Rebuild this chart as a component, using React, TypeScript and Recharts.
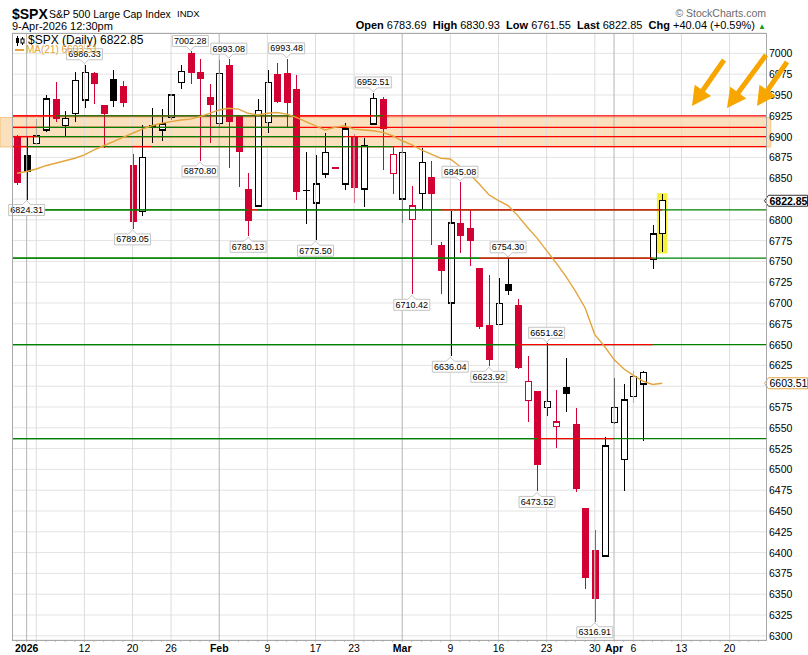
import React from "react";
import {
  ComposedChart,
  Bar,
  Line,
  XAxis,
  YAxis,
  CartesianGrid,
  ReferenceLine,
  ReferenceArea,
  ReferenceDot,
} from "recharts";

// trading days on the chart, Dec 31 2025 -> Apr 9 2026
const dates = [
  "Dec 31", "Jan 2", "Jan 5", "Jan 6", "Jan 7", "Jan 8", "Jan 9", "Jan 12", "Jan 13", "Jan 14",
  "Jan 15", "Jan 16", "Jan 20", "Jan 21", "Jan 22", "Jan 23", "Jan 26", "Jan 27", "Jan 28", "Jan 29",
  "Jan 30", "Feb 2", "Feb 3", "Feb 4", "Feb 5", "Feb 6", "Feb 9", "Feb 10", "Feb 11", "Feb 12",
  "Feb 13", "Feb 17", "Feb 18", "Feb 19", "Feb 20", "Feb 23", "Feb 24", "Feb 25", "Feb 26", "Feb 27",
  "Mar 2", "Mar 3", "Mar 4", "Mar 5", "Mar 6", "Mar 9", "Mar 10", "Mar 11", "Mar 12", "Mar 13",
  "Mar 16", "Mar 17", "Mar 18", "Mar 19", "Mar 20", "Mar 23", "Mar 24", "Mar 25", "Mar 26", "Mar 27",
  "Mar 30", "Mar 31", "Apr 1", "Apr 2", "Apr 6", "Apr 7", "Apr 8", "Apr 9",
];

const opens = [
  6900, 6878, 6892, 6908, 6945, 6913, 6928, 6944, 6977, 6938,
  6969, 6960.6, 6866, 6810, 6912, 6908, 6923, 6965, 7001, 6978,
  6948, 6916, 6986, 6925, 6837, 6816.5, 6917, 6975, 6977, 6957,
  6836, 6820, 6855, 6863, 6843, 6901, 6837, 6915, 6945, 6856,
  6825, 6800, 6832, 6851, 6770, 6700, 6796.5, 6790.5, 6742, 6673.6,
  6674.4, 6723, 6697.5, 6582.6, 6594, 6574.6, 6551.3, 6598.6, 6555, 6453,
  6403, 6396, 6556.6, 6512, 6588, 6602.6, 6752, 6783.69,
];

const highs = [
  6902, 6899, 6921, 6950, 6966, 6931, 6978, 6986.33, 6978, 6938.5,
  6980, 6966.8, 6879, 6914, 6934, 6933, 6951, 6986, 7002.28, 6993,
  6962.7, 6992, 6993.08, 6925.5, 6856.6, 6944.8, 6980, 6988, 6993.48, 6974,
  6881.8, 6877.9, 6904, 6863.5, 6916, 6903, 6898.7, 6952.51, 6947, 6889,
  6900.7, 6840.6, 6886, 6871, 6773.7, 6811, 6845.08, 6811.8, 6742.5, 6733.7,
  6730.4, 6754.3, 6704.5, 6636.3, 6594.5, 6651.62, 6595.4, 6633.5, 6573.4, 6453.5,
  6427.2, 6538.6, 6609.5, 6602.6, 6618.6, 6618.3, 6793.5, 6830.93,
];

const lows = [
  6842, 6824.31, 6890, 6906, 6918, 6900, 6918, 6934, 6939, 6886,
  6935.6, 6935.6, 6789.05, 6804, 6892, 6895, 6920, 6957.6, 6962.7, 6870.8,
  6892, 6912, 6862, 6840, 6780.13, 6816, 6904.7, 6940, 6911, 6823.8,
  6794.6, 6775.5, 6849.8, 6861, 6835.8, 6819.8, 6815, 6914, 6860, 6831,
  6796.5, 6710.42, 6811.8, 6769.8, 6710.8, 6636.04, 6759.7, 6744.5, 6668.8, 6623.92,
  6674, 6709.6, 6620.3, 6557.3, 6473.52, 6564.2, 6525.3, 6568.6, 6473.2, 6355.9,
  6316.91, 6395.5, 6554.2, 6474, 6579.4, 6534.5, 6740.5, 6761.55,
];

const closes = [
  6844, 6858, 6901.5, 6945, 6921, 6922, 6967, 6977, 6963, 6927,
  6943, 6940, 6797, 6875, 6913, 6915, 6950, 6978, 6977, 6969,
  6938, 6976, 6917, 6882, 6798, 6931, 6965, 6941, 6940, 6833,
  6834, 6843, 6881, 6861.5, 6909, 6838, 6889.5, 6946, 6909, 6878.6,
  6881, 6816.6, 6869, 6830.6, 6739, 6796, 6780.5, 6774.5, 6671, 6631.5,
  6699.6, 6715, 6622, 6605.4, 6505, 6581.4, 6557, 6590.6, 6477, 6369,
  6344, 6528, 6574.6, 6583.4, 6611.4, 6616.2, 6782.81, 6822.85,
];

const ma21 = [
  6856, 6858, 6861, 6865, 6868, 6871, 6874, 6878, 6884, 6889,
  6894, 6899, 6904, 6909, 6913, 6916, 6918, 6920, 6921, 6924,
  6928, 6932, 6934, 6933, 6928, 6926, 6928, 6929, 6927, 6923,
  6918, 6913, 6908, 6911, 6913, 6909, 6908, 6907, 6905, 6901,
  6895, 6890, 6884, 6879, 6874, 6873, 6864, 6855, 6843, 6830,
  6823, 6817, 6805, 6791, 6778, 6763, 6748, 6732, 6714, 6694,
  6662, 6648, 6632, 6621, 6613, 6606, 6602, 6603.51,
];

const closeBeforeStart = 6896; // Dec 30, colours the first bar

// empty days the time axis still runs through
const futureDates = ["Apr 10", "Apr 13", "Apr 14", "Apr 15", "Apr 16", "Apr 17", "Apr 20", "Apr 21", "Apr 22", "Apr 23"];

const yTicks = [
  6300, 6325, 6350, 6375, 6400, 6425, 6450, 6475, 6500, 6525, 6550, 6575, 6600, 6625, 6650,
  6675, 6700, 6725, 6750, 6775, 6800, 6825, 6850, 6875, 6900, 6925, 6950, 6975, 7000,
];
const hiddenYLabels = [6600, 6825]; // sit under the price tags

const axisLabelDates = ["Jan 2", "Jan 12", "Jan 20", "Jan 26", "Feb 2", "Feb 9", "Feb 17", "Feb 23", "Mar 2", "Mar 9", "Mar 16", "Mar 23", "Mar 30", "Apr 1", "Apr 6", "Apr 13", "Apr 20"];
const axisLabelText = ["2026", "12", "20", "26", "Feb", "9", "17", "23", "Mar", "9", "16", "23", "30", "Apr", "6", "13", "20"];
const boldAxisLabels = ["2026", "Feb", "Mar", "Apr"];
const weekLineDates = ["Jan 5", "Jan 12", "Jan 20", "Jan 26", "Feb 9", "Feb 17", "Feb 23", "Mar 9", "Mar 16", "Mar 23", "Mar 30", "Apr 6", "Apr 13", "Apr 20"];
const monthLineDates = ["Jan 2", "Feb 2", "Mar 2", "Apr 1"];

const highLabelDates = ["Jan 12", "Jan 28", "Feb 3", "Feb 11", "Feb 25", "Mar 10", "Mar 17", "Mar 23"];
const lowLabelDates = ["Jan 2", "Jan 20", "Jan 29", "Feb 5", "Feb 17", "Mar 3", "Mar 9", "Mar 13", "Mar 20", "Mar 30"];

// horizontal levels, each split into coloured runs starting at a given bar
const levelValues = [6925, 6911, 6900, 6888, 6812, 6754, 6650, 6537];
const levelRuns: [string, string][][] = [
  [["red", "start"], ["green", "Jan 7"], ["red", "Feb 12"], ["green", "Feb 25"], ["red", "Feb 26"]],
  [["red", "start"], ["green", "Jan 5"], ["red", "Feb 12"]],
  [["red", "start"], ["green", "Jan 5"], ["red", "Feb 20"]],
  [["red", "start"], ["green", "Jan 2"], ["red", "Jan 20"], ["green", "Jan 22"], ["red", "Feb 27"]],
  [["green", "start"], ["red", "Feb 5"], ["green", "Feb 6"], ["red", "Mar 6"], ["green", "Apr 9"]],
  [["green", "start"], ["red", "Mar 12"], ["green", "Apr 8"]],
  [["green", "start"], ["red", "Mar 18"], ["green", "Apr 8"]],
  [["green", "start"], ["red", "Mar 20"], ["green", "Apr 1"]],
];
const resistanceBand = [6887.5, 6923];

const RED = "#d20033";
const LINE_COLORS: Record<string, string> = { red: "#ff0000", green: "#008000" };
const MA_COLOR = "#e3a53c";
const FONT = "'Liberation Sans', Arial, sans-serif";

const X_MIN = -0.52;
const X_MAX = 77.78;
const Y_MIN = 6294.95;
const Y_MAX = 7024.5;

const allDates = [...dates, ...futureDates];
const posOf = (d: string) => allDates.indexOf(d);
const xTicks = allDates.map((_, k) => k);

const rows = dates.map((d, k) => ({
  pos: k,
  date: d,
  open: opens[k],
  high: highs[k],
  low: lows[k],
  close: closes[k],
  prev: k === 0 ? closeBeforeStart : closes[k - 1],
  range: [lows[k], highs[k]],
  ma: ma21[k],
}));

const lastRow = rows[rows.length - 1];

const Candle = (props: any) => {
  const { x, y, width, height, payload } = props;
  if (!payload || x == null) return null;
  const { open, close, high, low, prev } = payload;
  const top = Math.min(y, y + height);
  const h = Math.abs(height);
  const py = (v: number) => top + ((high - v) / (high - low)) * h;
  const cx = Math.round(x + width / 2) + 0.5;
  const color = close >= prev ? "#000" : RED;
  const bTop = py(Math.max(open, close));
  const bBot = py(Math.min(open, close));
  const hollow = close >= open;
  return (
    <g shapeRendering="crispEdges">
      <line x1={cx} x2={cx} y1={top} y2={bTop} stroke={color} strokeWidth={1} />
      <line x1={cx} x2={cx} y1={bBot} y2={top + h} stroke={color} strokeWidth={1} />
      {hollow ? (
        <rect x={cx - 3} y={bTop} width={6} height={Math.max(bBot - bTop, 1)} fill="#fff" stroke={color} strokeWidth={1.3} />
      ) : (
        <rect x={cx - 3.5} y={bTop} width={7} height={Math.max(bBot - bTop, 1.5)} fill={color} />
      )}
    </g>
  );
};

const Callout = ({ cx, cy, text, below }: any) => {
  if (cx == null) return null;
  const w = text.length * 5 + 1;
  const h = 11;
  const n = 4;
  const l = cx - w / 2;
  const r = cx + w / 2;
  let d: string;
  let ty: number;
  if (below) {
    const tip = cy + 1;
    const t = tip + n;
    d = `M${l},${t}H${cx - n}L${cx},${tip}L${cx + n},${t}H${r}V${t + h}H${l}Z`;
    ty = t + 8.5;
  } else {
    const tip = cy - 1;
    const b = tip - n;
    d = `M${l},${b - h}H${r}V${b}H${cx + n}L${cx},${tip}L${cx - n},${b}H${l}Z`;
    ty = b - h + 8.5;
  }
  return (
    <g>
      <path d={d} fill="#fff" stroke="#c4c4c4" strokeWidth={1} />
      <text x={cx} y={ty} textAnchor="middle" fontSize={9} fontFamily={FONT} fill="#000">
        {text}
      </text>
    </g>
  );
};

const PriceTag = ({ cx, cy, text, border, bold }: any) => {
  if (cx == null) return null;
  const tip = cx - 1.5;
  const l = cx + 2.5;
  const r = 807.5;
  const hh = 5.5;
  return (
    <g>
      <path d={`M${tip},${cy}L${l},${cy - hh}H${r}V${cy + hh}H${l}Z`} fill="#fff" stroke={border} strokeWidth={1} />
      <text x={l + 1} y={cy + 4} fontSize={10.5} fontWeight={bold ? 700 : 400} fontFamily={FONT} fill="#000">
        {text}
      </text>
    </g>
  );
};

const renderXTick = (p: any) => {
  const k = axisLabelDates.map(posOf).indexOf(p.payload.value);
  const txt = k >= 0 ? axisLabelText[k] : null;
  return (
    <g>
      <line x1={p.x} x2={p.x} y1={p.y} y2={p.y + 2} stroke="#bbb" />
      {txt && (
        <text
          x={p.x}
          y={p.y + 12}
          textAnchor="middle"
          fontSize={10.5}
          fontWeight={boldAxisLabels.includes(txt) ? 700 : 400}
          fontFamily={FONT}
          fill="#000"
        >
          {txt}
        </text>
      )}
    </g>
  );
};

const renderYTick = (p: any) => {
  if (hiddenYLabels.includes(p.payload.value)) return <g />;
  return (
    <text x={p.x + 3} y={p.y + 4} fontSize={10.5} fontFamily={FONT} fill="#000">
      {p.payload.value}
    </text>
  );
};

// every level: one full-width line in its latest colour, earlier runs laid over it
const levelBase = levelValues.map((lv, li) => {
  const runs = levelRuns[li];
  return { lv, color: runs[runs.length - 1][0], key: `base-${li}` };
});
const levelSegments = levelValues.flatMap((lv, li) =>
  levelRuns[li].slice(0, -1).map(([color, start], ri) => {
    const x1 = start === "start" ? X_MIN : posOf(start);
    const x2 = posOf(levelRuns[li][ri + 1][1]);
    return { lv, color, x1, x2, key: `lvl-${li}-${ri}` };
  })
);

const arrowPath = (tx: number, ty: number, hx: number, hy: number) => {
  const dx = hx - tx;
  const dy = hy - ty;
  const len = Math.hypot(dx, dy);
  const ux = dx / len;
  const uy = dy / len;
  const bx = hx - ux * 19;
  const by = hy - uy * 19;
  const nx = -uy * 10;
  const ny = ux * 10;
  return {
    line: { x1: tx, y1: ty, x2: bx + ux * 2, y2: by + uy * 2 },
    head: `M${hx},${hy}L${bx + nx},${by + ny}L${bx - nx},${by - ny}Z`,
  };
};

// hand-drawn arrows of the annotation layer (page pixels)
const arrows = [
  [724, 60, 692, 106],
  [766, 55, 727, 108],
  [787, 62, 757, 106],
].map(([a, b, c, d]) => arrowPath(a, b, c, d));

const abs = (left: number, top: number, extra: React.CSSProperties = {}): React.CSSProperties => ({
  position: "absolute",
  left,
  top,
  lineHeight: 1,
  whiteSpace: "nowrap",
  fontFamily: FONT,
  ...extra,
});

export default function App() {
  return (
    <div style={{ position: "absolute", left: 0, top: 0, width: 808, height: 655, background: "#fff", overflow: "hidden" }}>
      <ComposedChart width={808} height={655} data={rows} margin={{ top: 33, right: 0, bottom: 0, left: 12 }}>
        <CartesianGrid vertical={false} stroke="#e3e3e3" />
        <XAxis
          type="number"
          dataKey="pos"
          domain={[X_MIN, X_MAX]}
          allowDataOverflow
          ticks={xTicks}
          interval={0}
          tick={renderXTick}
          tickLine={false}
          tickSize={0}
          tickMargin={0}
          axisLine={false}
          height={15}
        />
        <YAxis
          orientation="right"
          type="number"
          domain={[Y_MIN, Y_MAX]}
          allowDataOverflow
          ticks={yTicks}
          interval={0}
          width={42}
          tick={renderYTick}
          tickLine={false}
          tickSize={0}
          tickMargin={0}
          axisLine={false}
        />
        {weekLineDates.map((d) => (
          <ReferenceLine key={"w" + d} x={posOf(d)} stroke="#dcdcdc" strokeWidth={1} />
        ))}
        {monthLineDates.map((d) => (
          <ReferenceLine key={"m" + d} x={posOf(d)} stroke="#b4b4b4" strokeWidth={1} />
        ))}
        <ReferenceArea
          x1={X_MIN - 1.25}
          x2={X_MAX + 0.5}
          y1={resistanceBand[0]}
          y2={resistanceBand[1]}
          fill="#f0a030"
          fillOpacity={0.32}
          stroke="#f0a030"
          strokeOpacity={0.5}
          ifOverflow="visible"
        />
        <ReferenceArea
          x1={lastRow.pos - 0.55}
          x2={lastRow.pos + 0.55}
          y1={lastRow.low - 2}
          y2={lastRow.high + 1}
          fill="#f6f03a"
          fillOpacity={1}
          stroke="none"
        />
        {levelBase.map((b) => (
          <ReferenceLine key={b.key} y={b.lv} stroke={LINE_COLORS[b.color]} strokeWidth={1.3} />
        ))}
        {levelSegments.map((s) => (
          <ReferenceLine
            key={s.key}
            segment={[
              { x: s.x1, y: s.lv },
              { x: s.x2, y: s.lv },
            ]}
            stroke={LINE_COLORS[s.color]}
            strokeWidth={1.3}
            ifOverflow="visible"
          />
        ))}
        <Line type="linear" dataKey="ma" stroke={MA_COLOR} strokeWidth={1.4} dot={false} activeDot={false} isAnimationActive={false} />
        <Bar dataKey="range" barSize={8} shape={Candle} isAnimationActive={false} />
        {highLabelDates.map((d) => {
          const r = rows[posOf(d)];
          return (
            <ReferenceDot
              key={"h" + d}
              x={r.pos}
              y={r.high}
              ifOverflow="visible"
              shape={(p: any) => <Callout {...p} text={r.high.toFixed(2)} />}
            />
          );
        })}
        {lowLabelDates.map((d) => {
          const r = rows[posOf(d)];
          return (
            <ReferenceDot
              key={"l" + d}
              x={r.pos}
              y={r.low}
              ifOverflow="visible"
              shape={(p: any) => <Callout {...p} text={r.low.toFixed(2)} below />}
            />
          );
        })}
        <ReferenceDot
          x={X_MAX}
          y={lastRow.close}
          ifOverflow="visible"
          shape={(p: any) => <PriceTag {...p} text={lastRow.close.toFixed(2)} border="#333" bold />}
        />
        <ReferenceDot
          x={X_MAX}
          y={lastRow.ma}
          ifOverflow="visible"
          shape={(p: any) => <PriceTag {...p} text={lastRow.ma.toFixed(2)} border={MA_COLOR} />}
        />
      </ComposedChart>

      {/* plot frame */}
      <div style={{ position: "absolute", left: 12, top: 33, width: 755, height: 608, boxSizing: "border-box", border: "1px solid #a8a8a8", pointerEvents: "none" }} />

      {/* header */}
      <div style={abs(12, 6.5, { fontSize: 14, fontWeight: 700 })}>$SPX</div>
      <div style={abs(49, 8.5, { fontSize: 10.5 })}>S&amp;P 500 Large Cap Index</div>
      <div style={abs(177, 9, { fontSize: 9.5 })}>INDX</div>
      <div style={abs(12, 21.4, { fontSize: 11 })}>9-Apr-2026 12:30pm</div>
      <div style={{ ...abs(0, 7.5, { fontSize: 10.5, color: "#6b6b6b" }), left: "auto", right: 42 }}>© StockCharts.com</div>
      <div style={{ ...abs(0, 19.5, { fontSize: 11 }), left: "auto", right: 42 }}>
        <b>Open</b> 6783.69&nbsp; <b>High</b> 6830.93&nbsp; <b>Low</b> 6761.55&nbsp; <b>Last</b> 6822.85&nbsp; <b>Chg</b> +40.04 (+0.59%){" "}
        <span style={{ color: "#1b9a1b", fontSize: 8 }}>▲</span>
      </div>

      {/* legend */}
      <svg style={{ position: "absolute", left: 15, top: 36 }} width={11} height={10}>
        <line x1={2.5} x2={2.5} y1={0} y2={10} stroke="#000" />
        <rect x={1} y={2} width={3} height={5} fill="#000" />
        <line x1={7.5} x2={7.5} y1={1} y2={9} stroke="#000" />
        <rect x={6} y={3} width={3} height={4} fill="#fff" stroke="#000" />
      </svg>
      <div style={abs(28, 34.3, { fontSize: 12 })}>$SPX (Daily) 6822.85</div>
      <div style={{ position: "absolute", left: 15, top: 48.5, width: 9, height: 2, background: MA_COLOR }} />
      <div style={abs(26, 44.5, { fontSize: 10, color: MA_COLOR })}>MA(21) 6603.51</div>

      {/* arrows */}
      <svg style={{ position: "absolute", left: 0, top: 0, pointerEvents: "none" }} width={808} height={655}>
        {arrows.map((a, k) => (
          <g key={k}>
            <line {...a.line} stroke="#f7a600" strokeWidth={5} />
            <path d={a.head} fill="#f7a600" />
          </g>
        ))}
      </svg>
    </div>
  );
}
